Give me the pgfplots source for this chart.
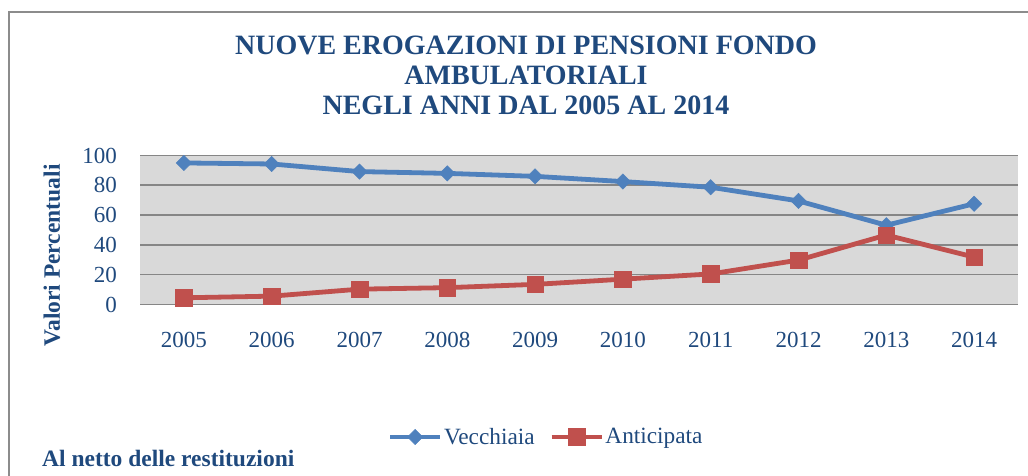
\documentclass[border=0pt]{standalone}
\usepackage{fontspec}
\setmainfont{Liberation Serif}
\usepackage{pgfplots}
\pgfplotsset{compat=1.18}
\definecolor{titleblue}{RGB}{31,73,125}
\definecolor{lineblue}{RGB}{79,129,189}
\definecolor{linered}{RGB}{192,80,77}
\definecolor{plotbg}{RGB}{217,217,217}
\definecolor{gridgray}{RGB}{134,134,134}
\definecolor{framegray}{RGB}{140,140,140}
\begin{document}
\begin{tikzpicture}
\useasboundingbox (0pt,0pt) rectangle (1028pt,476pt);
\draw[framegray, line width=1.3pt] (9pt,0pt) -- (9pt,464pt) -- (1028pt,464pt);
\node[anchor=base, font=\fontsize{28}{30}\selectfont\bfseries, text=titleblue, inner sep=0pt] at (526pt,421pt) {NUOVE EROGAZIONI DI PENSIONI FONDO};
\node[anchor=base, font=\fontsize{28}{30}\selectfont\bfseries, text=titleblue, inner sep=0pt] at (526pt,391.5pt) {AMBULATORIALI};
\node[anchor=base, font=\fontsize{28}{30}\selectfont\bfseries, text=titleblue, inner sep=0pt] at (526pt,361.7pt) {NEGLI ANNI DAL 2005 AL 2014};
\node[rotate=90, font=\fontsize{23.5}{26}\selectfont\bfseries, text=titleblue, inner sep=0pt] at (52pt,220.5pt) {Valori Percentuali};
\node[anchor=base west, font=\fontsize{23.5}{26}\selectfont\bfseries, text=titleblue, inner sep=0pt] at (42pt,9pt) {Al netto delle restituzioni};
\begin{axis}[
  at={(140pt,171.5pt)}, anchor=south west,
  width=878pt, height=149pt, scale only axis,
  xmin=2004.5, xmax=2014.5, ymin=0, ymax=100,
  xtick={2005,2006,...,2014}, ytick={0,20,...,100},
  /pgf/number format/assume math mode=true,
  /pgf/number format/1000 sep={},
  major tick length=0pt,
  axis line style={draw=none},
  axis background/.style={fill=plotbg},
  ymajorgrids, major grid style={gridgray, line width=1.6pt},
  tick label style={font=\fontsize{23}{26}\selectfont, text=titleblue, inner sep=0pt},
  yticklabel style={xshift=-23pt},
  xticklabel style={yshift=-27.5pt},
  clip=false,
  legend style={at={(axis description cs:0.282,-0.889)}, anchor=west, draw=none, fill=none,
    legend columns=2, font=\fontsize{23.3}{26}\selectfont, text=titleblue,
    inner sep=0pt, nodes={inner sep=1.5pt},
    /tikz/every even column/.append style={column sep=13pt}},
  legend image code/.code={\draw[mark repeat=2, mark phase=2, #1] plot coordinates {(0pt,0pt) (25pt,0pt) (50pt,0pt)};},
]
\addplot[lineblue, line width=4.8pt, mark=square*, mark size=5.4pt, mark options={solid, rotate=45, fill=lineblue, line width=0.5pt}]
  coordinates {(2005,95) (2006,94.3) (2007,89.2) (2008,88) (2009,86) (2010,82.5) (2011,78.7) (2012,69.5) (2013,53.2) (2014,67.6)};
\addlegendentry{Vecchiaia}
\addplot[linered, line width=4.8pt, mark=square*, mark size=8.3pt, mark options={solid, fill=linered, line width=0.5pt}]
  coordinates {(2005,4.5) (2006,5.6) (2007,10.3) (2008,11.3) (2009,13.5) (2010,17) (2011,20.5) (2012,29.8) (2013,46.6) (2014,31.8)};
\addlegendentry{Anticipata}
\end{axis}
\end{tikzpicture}
\end{document}
